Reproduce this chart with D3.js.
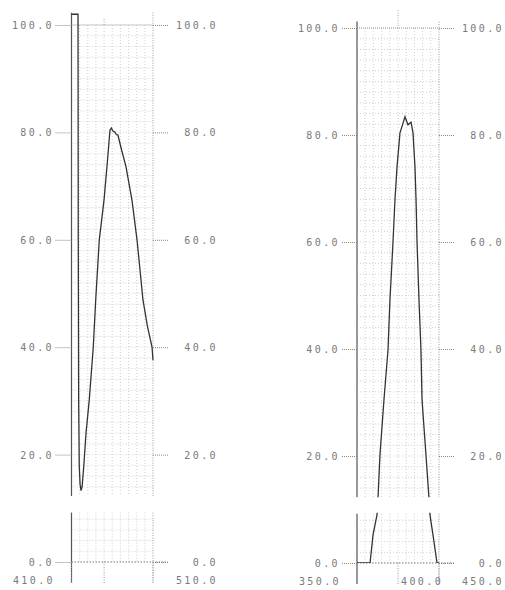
<!DOCTYPE html>
<html>
<head>
<meta charset="utf-8">
<script src="https://cdn.jsdelivr.net/npm/d3@7"></script>
<style>
  body { margin: 0; background: #fff; }
  svg text { font-family: "DejaVu Sans Mono", monospace; font-size: 10px; fill: #7a7a7a; letter-spacing: 2.4px; }
</style>
</head>
<body>
<div id="chart"></div>
<script>
// Tick values shared by both panels
var yTicks = [0, 20, 40, 60, 80, 100];

// Left panel: 410 - 510
var leftDomain = [410, 510];
var leftWave = [410, 418, 418.3, 418.8, 419.5, 420.5, 421.7, 423, 425, 427.8, 431.8, 436.7, 439.7, 444.1, 449.9, 453.5, 457.2, 459, 461, 463, 465, 467, 471, 476.9, 484.2, 490.4, 497.7, 503, 508.8, 510];
var leftPct  = [102, 102, 60, 30, 18, 14.5, 13.3, 14, 17.7, 24, 30.2, 40, 48.8, 60, 67.4, 73.6, 80.4, 80.8, 80.2, 80.1, 79.6, 79.5, 77, 73.6, 67.4, 60, 48.8, 44, 40, 37.6];
var leftXTicks = [410, 450, 510];
var leftXLabels = ["410.0", "", "510.0"];

// Right panel: 350 - 450
var rightDomain = [350, 450];
var rightWave = [350, 365.9, 369.5, 374.4, 375.6, 378, 382.9, 387.8, 390.2, 393.9, 396.3, 398.8, 402.4, 405.5, 408.5, 412.2, 415.9, 418.3, 419.5, 420.7, 422, 423.2, 425.6, 428, 429.3, 434.1, 437.8, 439, 442.7, 447.6, 450];
var rightPct  = [0, 0, 5.2, 9, 12.1, 20.2, 30.5, 39.8, 49.2, 60, 67.9, 74, 80.4, 81.9, 83.4, 81.9, 82.4, 80.4, 77.2, 74, 67.9, 60, 49.2, 39.8, 30.5, 20.2, 12.1, 9, 5.2, 0, 0];
var rightXTicks = [350, 400, 450];
var rightXLabels = ["350.0", "400.0", "450.0"];

// break in the paper between the two segments
var breakHi = 12.3, breakLo = 9.2;

var svg = d3.select("#chart").append("svg")
    .attr("width", 505)
    .attr("height", 590);

svg.append("rect").attr("width", 505).attr("height", 590).attr("fill", "#fff");

function drawPanel(id, opts) {
    var x = d3.scaleLinear().domain(opts.domain).range(opts.xRange);
    var y = d3.scaleLinear().domain([0, 100]).range(opts.yRange);
    var x0 = opts.xRange[0], x1 = opts.xRange[1];
    var g = svg.append("g");

    // two segments of the chart paper
    var segments = [[opts.topVal, breakHi], [breakLo, 0]];

    // fine grid
    var gx = d3.range(opts.domain[0] + 10, opts.domain[1], 10);
    var gy = d3.range(2, 100, 2);
    segments.forEach(function(s) {
        g.selectAll(null).data(gx).join("line")
            .attr("x1", d => x(d)).attr("x2", d => x(d))
            .attr("y1", y(Math.min(s[0], 100))).attr("y2", y(s[1]))
            .attr("stroke", "#c4c4c4").attr("stroke-width", 0.8)
            .attr("stroke-dasharray", "1,2");
        g.selectAll(null).data(gy.filter(d => d < s[0] && d > s[1])).join("line")
            .attr("x1", x0).attr("x2", x1)
            .attr("y1", d => y(d)).attr("y2", d => y(d))
            .attr("stroke", "#c4c4c4").attr("stroke-width", 0.8)
            .attr("stroke-dasharray", "1,2");
    });

    // borders (left solid, right dotted), broken at the gap
    segments.forEach(function(s, i) {
        var yb = i === 1 ? opts.bottom : y(s[1]);
        g.append("line")
            .attr("x1", x0).attr("x2", x0)
            .attr("y1", y(s[0])).attr("y2", yb)
            .attr("stroke", "#555").attr("stroke-width", 1.2);
        g.append("line")
            .attr("x1", x1).attr("x2", x1)
            .attr("y1", y(s[0])).attr("y2", yb)
            .attr("stroke", "#999").attr("stroke-width", 1)
            .attr("stroke-dasharray", "1,1.5");
    });

    // left axis
    var left = g.append("g")
        .attr("transform", "translate(" + x0 + ",0)")
        .call(d3.axisLeft(y).tickValues(yTicks).tickFormat(d3.format(".1f"))
            .tickSizeInner(x0 - opts.leftLabelEnd).tickSizeOuter(0).tickPadding(1));
    left.select(".domain").remove();
    left.selectAll("line").attr("stroke", "#888").attr("stroke-dasharray", "1,1");
    left.selectAll("text").attr("dy", "0.35em");

    // right axis, labels right-aligned
    var right = g.append("g")
        .attr("transform", "translate(" + x1 + ",0)")
        .call(d3.axisRight(y).tickValues(yTicks).tickFormat(d3.format(".1f"))
            .tickSizeInner(15).tickSizeOuter(0));
    right.select(".domain").remove();
    right.selectAll("line").attr("stroke", "#888").attr("stroke-dasharray", "1,1");
    right.selectAll("text")
        .attr("text-anchor", "end")
        .attr("x", opts.rightLabelEnd - x1)
        .attr("dy", "0.35em");

    // 100 line across and 0 line
    g.append("line")
        .attr("x1", x0).attr("x2", x1).attr("y1", y(100)).attr("y2", y(100))
        .attr("stroke", "#888").attr("stroke-dasharray", "1,1");
    g.append("line")
        .attr("x1", x0).attr("x2", x1 + 15).attr("y1", y(0)).attr("y2", y(0))
        .attr("stroke", "#777").attr("stroke-dasharray", "1.5,1.5");

    // x ticks and labels at the bottom
    g.selectAll(null).data(opts.xTicks).join("line")
        .attr("x1", d => x(d)).attr("x2", d => x(d))
        .attr("y1", y(0)).attr("y2", opts.bottom)
        .attr("stroke", "#999").attr("stroke-dasharray", "1,1.5");
    g.append("line")
        .attr("x1", x(opts.xTicks[1])).attr("x2", x(opts.xTicks[1]))
        .attr("y1", opts.midTopTick).attr("y2", y(100))
        .attr("stroke", "#aaa").attr("stroke-dasharray", "1,1.5");
    g.selectAll(null).data(opts.xTicks).join("text")
        .attr("x", (d, i) => opts.xLabelX[i])
        .attr("y", opts.bottom - 3)
        .attr("dy", "0.35em")
        .attr("text-anchor", (d, i) => opts.xLabelAnchor[i])
        .text((d, i) => opts.xLabels[i]);

    // the trace, clipped to the two paper segments
    var clip = svg.append("clipPath").attr("id", id);
    segments.forEach(function(s) {
        clip.append("rect")
            .attr("x", x0 - 1).attr("width", x1 - x0 + 2)
            .attr("y", y(s[0]) - 1).attr("height", y(s[1]) - y(s[0]) + 1);
    });
    var pts = d3.zip(opts.wave, opts.pct);
    g.append("path")
        .datum(pts)
        .attr("clip-path", "url(#" + id + ")")
        .attr("fill", "none")
        .attr("stroke", "#333")
        .attr("stroke-width", 1.3)
        .attr("d", d3.line().x(d => x(d[0])).y(d => y(d[1])));
}

drawPanel("clipL", {
    domain: leftDomain, xRange: [71.5, 153], yRange: [562, 25], topVal: 102.3,
    wave: leftWave, pct: leftPct, xTicks: leftXTicks, xLabels: leftXLabels,
    leftLabelEnd: 55, rightLabelEnd: 218, bottom: 583, midTopTick: 19,
    xLabelX: [55, 0, 218], xLabelAnchor: ["end", "end", "end"]
});

drawPanel("clipR", {
    domain: rightDomain, xRange: [357, 439], yRange: [563, 28], topVal: 101.2,
    wave: rightWave, pct: rightPct, xTicks: rightXTicks, xLabels: rightXLabels,
    leftLabelEnd: 341, rightLabelEnd: 504, bottom: 584, midTopTick: 10,
    xLabelX: [341, 401, 504], xLabelAnchor: ["end", "start", "end"]
});
</script>
</body>
</html>
